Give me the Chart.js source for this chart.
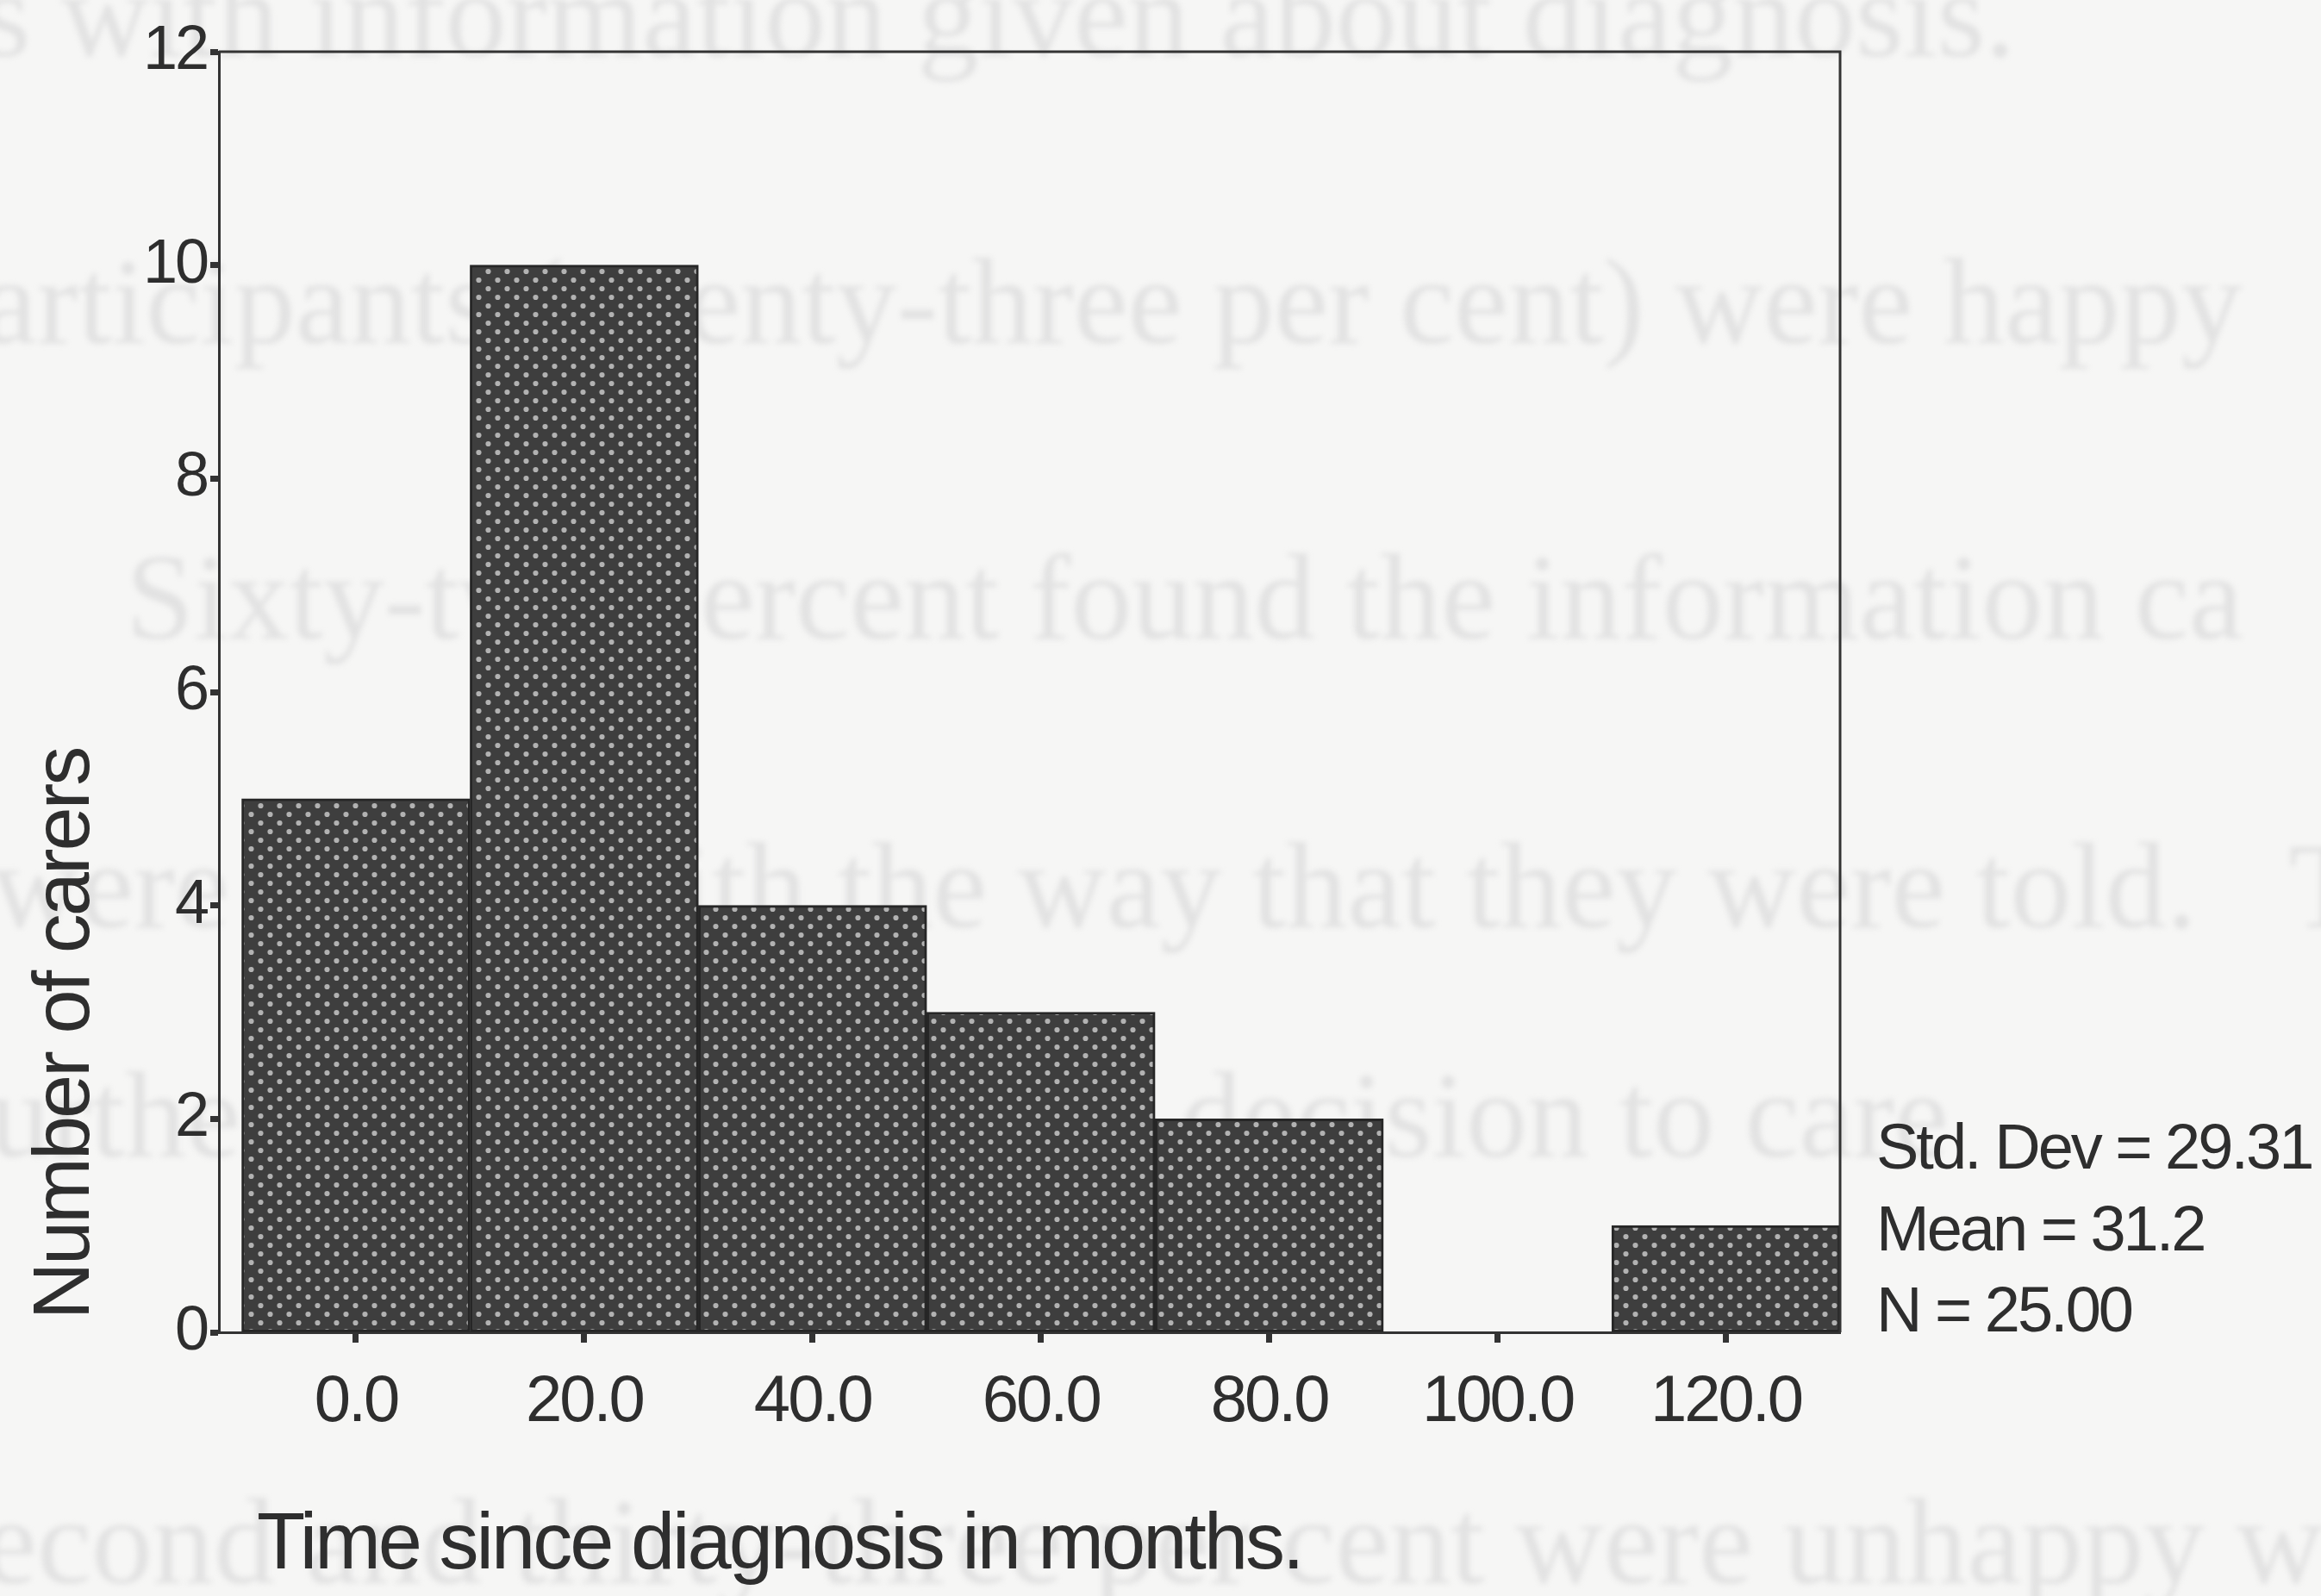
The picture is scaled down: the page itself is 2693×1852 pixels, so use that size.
<!DOCTYPE html>
<html>
<head>
<meta charset="utf-8">
<title>Time since diagnosis in months</title>
<script src="https://cdn.jsdelivr.net/npm/chart.js@4.4.0/dist/chart.umd.min.js"></script>
<style>
  html, body { margin: 0; padding: 0; background: #f6f6f5; }
  #wrap { width: 2693px; height: 1852px; }
</style>
</head>
<body>
<div id="wrap"><canvas id="histChart" width="2693" height="1852"></canvas></div>
<script>
// ---------- DATA ----------
const binCentres = [0, 20, 40, 60, 80, 100, 120];
const carerCounts = [5, 10, 4, 3, 2, 0, 1];
const xTickValues = [0, 20, 40, 60, 80, 100, 120];
const xTickLabels = ['0.0', '20.0', '40.0', '60.0', '80.0', '100.0', '120.0'];
const yTickValues = [0, 2, 4, 6, 8, 10, 12];
const statLines = ['Std. Dev = 29.31', 'Mean = 31.2', 'N = 25.00'];
const xTitle = 'Time since diagnosis in months.';
const yTitle = 'Number of carers';

// faint text showing through from the page behind
const ghostLines = [
    's with information given about diagnosis.',
    'articipants (twenty-three per cent) were happy',
    'Sixty-two percent found the information ca',
    'were happy with the way that they were told.   T',
    'further, the timing of the decision to care',
    'econd and thirty-three per cent were unhappy w'
];

const ink = '#2e2e2e';
const sans = "'Liberation Sans', Arial, sans-serif";

// ---------- DOTTED FILL PATTERN ----------
function makePattern() {
    const p = document.createElement('canvas');
    p.width = 22;
    p.height = 20;
    const c = p.getContext('2d');
    c.fillStyle = '#3e3e3e';
    c.fillRect(0, 0, 22, 20);
    c.fillStyle = '#b2b2b2';
    [[5.5, 5], [16.5, 15]].forEach(([x, y]) => {
        c.beginPath();
        c.arc(x, y, 3.1, 0, Math.PI * 2);
        c.fill();
    });
    return document.getElementById('histChart').getContext('2d').createPattern(p, 'repeat');
}

// ---------- PAGE DECORATION, FRAME, TITLES, STATS ----------
const pagePlugin = {
    id: 'pagePlugin',
    beforeDraw(chart) {
        const ctx = chart.ctx;
        ctx.save();
        ctx.fillStyle = '#f6f6f5';
        ctx.fillRect(0, 0, chart.width, chart.height);
        ctx.filter = 'blur(3px)';
        ctx.fillStyle = '#e2e2e2';
        ctx.font = "142px 'Liberation Serif', serif";
        ctx.textBaseline = 'middle';
        const ghostY = [28, 361, 704, 1039, 1305, 1800];
        const ghostX = [-20, -20, 146, -10, -60, -20];
        ghostLines.forEach((t, i) => ctx.fillText(t, ghostX[i], ghostY[i]));
        ctx.restore();
        // condensed look of the original labels
        ctx.letterSpacing = '-3px';
    },
    afterDraw(chart) {
        const ctx = chart.ctx;
        const a = chart.chartArea;
        ctx.save();
        // top and right edges of the frame
        ctx.strokeStyle = '#333';
        ctx.lineWidth = 3;
        ctx.beginPath();
        ctx.moveTo(a.left, a.top);
        ctx.lineTo(a.right, a.top);
        ctx.lineTo(a.right, a.bottom);
        ctx.stroke();

        ctx.fillStyle = ink;
        ctx.letterSpacing = '-3px';
        // x title
        ctx.font = '92px ' + sans;
        ctx.textAlign = 'left';
        ctx.textBaseline = 'middle';
        ctx.fillText(xTitle, 298, 1795);
        // y title
        ctx.save();
        ctx.translate(78, 1200);
        ctx.rotate(-Math.PI / 2);
        ctx.textAlign = 'center';
        ctx.fillText(yTitle, 0, 0);
        ctx.restore();
        // summary stats
        ctx.font = '74px ' + sans;
        const statY = [1336, 1431, 1525];
        statLines.forEach((t, i) => ctx.fillText(t, a.right + 42, statY[i]));
        ctx.restore();
    }
};

// ---------- HISTOGRAM ----------
const ctx = document.getElementById('histChart').getContext('2d');

window.histChart = new Chart(ctx, {
    type: 'bar',
    data: {
        datasets: [{
            data: binCentres.map((x, i) => ({ x: x, y: carerCounts[i] })),
            backgroundColor: makePattern(),
            borderColor: '#262626',
            borderWidth: 3,
            borderSkipped: false,
            barPercentage: 1,
            categoryPercentage: 1
        }]
    },
    options: {
        responsive: false,
        animation: false,
        devicePixelRatio: 1,
        layout: {
            padding: { top: 60, right: 558, bottom: 0, left: 0 }
        },
        plugins: {
            legend: { display: false },
            tooltip: { enabled: false }
        },
        scales: {
            x: {
                type: 'linear',
                min: -12,
                max: 130,
                offset: false,
                afterBuildTicks: s => { s.ticks = xTickValues.map(v => ({ value: v })); },
                afterFit: s => { s.height = 306; },
                ticks: {
                    autoSkip: false,
                    maxRotation: 0,
                    padding: 24,
                    color: ink,
                    font: { family: sans, size: 76 },
                    callback: v => xTickLabels[xTickValues.indexOf(v)]
                },
                grid: {
                    offset: false,
                    drawOnChartArea: false,
                    tickLength: 12,
                    tickWidth: 7,
                    tickColor: '#333'
                },
                border: { color: '#333', width: 3 }
            },
            y: {
                min: 0,
                max: 12,
                afterBuildTicks: s => { s.ticks = yTickValues.map(v => ({ value: v })); },
                afterFit: s => { s.width = 254; },
                ticks: {
                    padding: 4,
                    color: ink,
                    font: { family: sans, size: 72 }
                },
                grid: {
                    drawOnChartArea: false,
                    tickLength: 10,
                    tickWidth: 7,
                    tickColor: '#333'
                },
                border: { color: '#333', width: 3 }
            }
        }
    },
    plugins: [pagePlugin]
});
</script>
</body>
</html>
